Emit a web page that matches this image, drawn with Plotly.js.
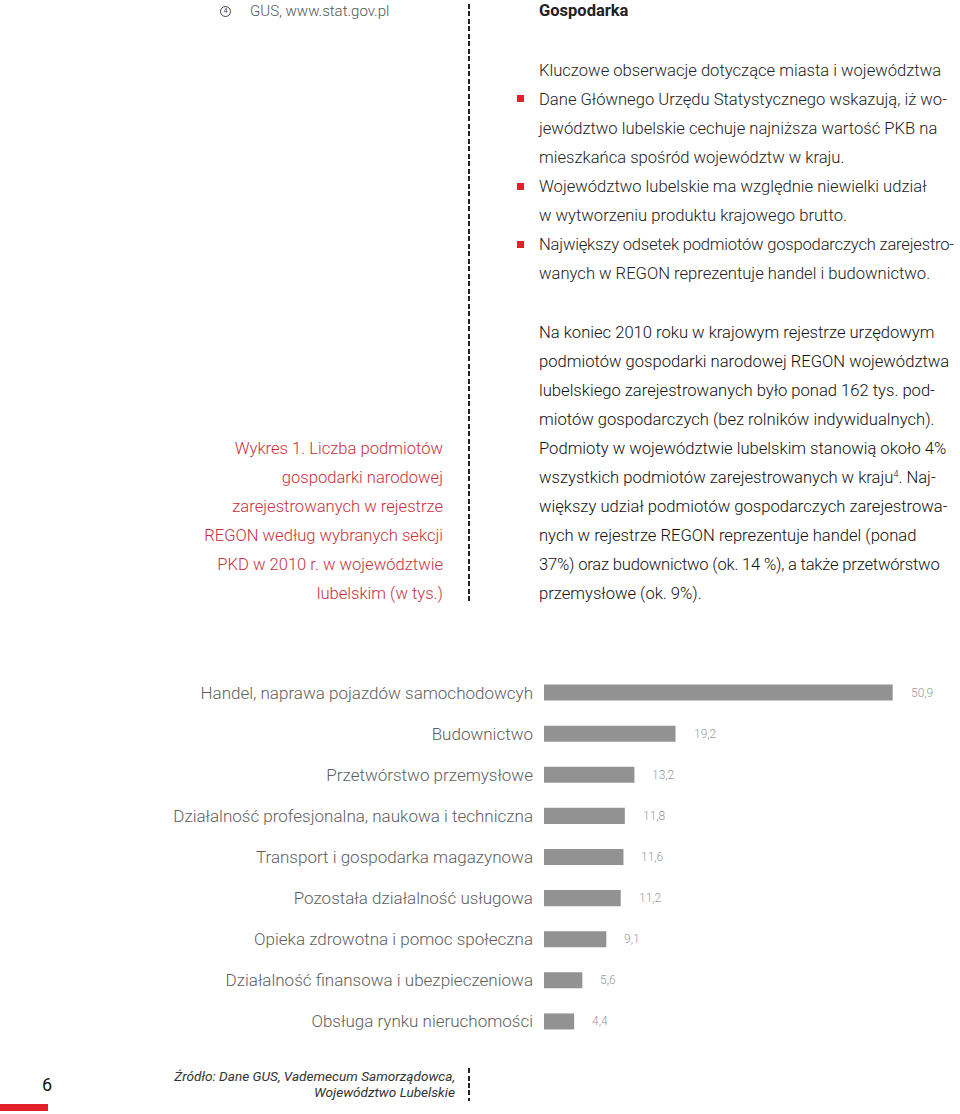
<!DOCTYPE html>
<html>
<head>
<meta charset="utf-8">
<script src="https://cdn.plot.ly/plotly-3.0.1.min.js"></script>
<style>
  html, body { margin:0; padding:0; background:#fff; }
  body { width:960px; height:1114px; position:relative; overflow:hidden;
         font-family: Roboto, "Noto Sans", "DejaVu Sans", sans-serif; }
  .abs { position:absolute; white-space:nowrap; }
  .blk { position:absolute; font-size:16.6px; }
  .blk > div { height:29px; line-height:29px; white-space:nowrap; }
  .tight { letter-spacing:-0.2px; }
  .dash { position:absolute; width:2px;
          background: repeating-linear-gradient(to bottom, #222 0 5px, transparent 5px 7.5px); }
  .bullet { position:absolute; width:7px; height:7px; background:#e2202c; }
  #chart { position:absolute; left:0; top:0; width:960px; height:1114px; }
</style>
</head>
<body>

<!-- footnote -->
<div class="abs" style="left:220px; top:6px; width:9px; height:9px; border:1px solid #444; border-radius:50%; font-size:7px; line-height:9px; text-align:center; color:#333;">4</div>
<div class="abs" style="left:250px; top:2px; font-size:15px; color:#555; font-weight:300;">GUS, www.stat.gov.pl</div>

<!-- dashed separators -->
<div class="dash" style="left:468px; top:4px; height:598px;"></div>
<div class="dash" style="left:468px; top:1068px; height:33px;"></div>

<!-- header -->
<div class="abs" style="left:539px; top:1px; font-size:16.5px; font-weight:bold; color:#222;">Gospodarka</div>

<!-- key observations -->
<div class="blk" style="left:539px; top:56px; color:#222; font-weight:300;">
<div>Kluczowe obserwacje dotyczące miasta i województwa</div>
<div>Dane Głównego Urzędu Statystycznego wskazują, iż wo-</div>
<div>jewództwo lubelskie cechuje najniższa wartość PKB na</div>
<div>mieszkańca spośród województw w kraju.</div>
<div>Województwo lubelskie ma względnie niewielki udział</div>
<div>w wytworzeniu produktu krajowego brutto.</div>
<div class="tight">Największy odsetek podmiotów gospodarczych zarejestro-</div>
<div>wanych w REGON reprezentuje handel i budownictwo.</div>
</div>
<div class="bullet" style="left:517px; top:95px;"></div>
<div class="bullet" style="left:517px; top:183px;"></div>
<div class="bullet" style="left:517px; top:241px;"></div>

<!-- paragraph -->
<div class="blk" style="left:539px; top:318px; color:#111; font-weight:300;">
<div>Na koniec 2010 roku w krajowym rejestrze urzędowym</div>
<div>podmiotów gospodarki narodowej REGON województwa</div>
<div>lubelskiego zarejestrowanych było ponad 162 tys. pod-</div>
<div>miotów gospodarczych (bez rolników indywidualnych).</div>
<div>Podmioty w województwie lubelskim stanowią około 4%</div>
<div>wszystkich podmiotów zarejestrowanych w kraju<span style="font-size:9px; position:relative; top:-6px;">4</span>. Naj-</div>
<div>większy udział podmiotów gospodarczych zarejestrowa-</div>
<div>nych w rejestrze REGON reprezentuje handel (ponad</div>
<div class="tight">37%) oraz budownictwo (ok. 14 %), a także przetwórstwo</div>
<div>przemysłowe (ok. 9%).</div>
</div>

<!-- chart caption -->
<div class="blk" style="right:517px; top:434px; color:#c8313b; text-align:right; font-weight:300;">
<div>Wykres 1. Liczba podmiotów</div>
<div>gospodarki narodowej</div>
<div>zarejestrowanych w rejestrze</div>
<div>REGON według wybranych sekcji</div>
<div>PKD w 2010 r. w województwie</div>
<div>lubelskim (w tys.)</div>
</div>

<!-- page number & source -->
<div class="abs" style="left:42px; top:1074px; font-size:18px; color:#111;">6</div>
<div class="abs" style="left:0px; top:1104px; width:48px; height:7px; background:#e2202c;"></div>
<div class="abs" style="right:505px; top:1068px; font-size:13.6px; font-style:italic; color:#333; text-align:right;">
<div style="height:16px; line-height:16px;">Źródło: Dane GUS, Vademecum Samorządowca,</div>
<div style="height:16px; line-height:16px;">Województwo Lubelskie</div>
</div>

<div id="chart"></div>

<script>
const categories = [
  "Handel, naprawa pojazdów samochodowcyh",
  "Budownictwo",
  "Przetwórstwo przemysłowe",
  "Działalność profesjonalna, naukowa i techniczna",
  "Transport i gospodarka magazynowa",
  "Pozostała działalność usługowa",
  "Opieka zdrowotna i pomoc społeczna",
  "Działalność finansowa i ubezpieczeniowa",
  "Obsługa rynku nieruchomości"
];
const values = [50.9, 19.2, 13.2, 11.8, 11.6, 11.2, 9.1, 5.6, 4.4];
const valueLabels = values.map(v => v.toFixed(1).replace('.', ','));

const trace = {
  type: 'bar',
  orientation: 'h',
  x: values,
  y: categories,
  marker: { color: '#929292' },
  width: 0.39,
  hoverinfo: 'none'
};

const annotations = values.map((v, i) => ({
  x: v, y: categories[i], xref: 'x', yref: 'y',
  text: valueLabels[i], showarrow: false,
  xanchor: 'left', yanchor: 'middle', xshift: 16,
  font: { family: 'Roboto, "Noto Sans", sans-serif', size: 12, color: '#9a9a9a', weight: 300 }
}));

const layout = {
  width: 960, height: 1114,
  margin: { l: 544, r: 5, t: 672, b: 72, pad: 0 },
  paper_bgcolor: 'rgba(0,0,0,0)',
  plot_bgcolor: 'rgba(0,0,0,0)',
  showlegend: false,
  xaxis: { range: [0, 60], visible: false, fixedrange: true },
  yaxis: {
    type: 'category', autorange: 'reversed',
    showgrid: false, zeroline: false, showline: false,
    ticks: '', ticklabelstandoff: 10,
    tickfont: { family: 'Roboto, "Noto Sans", sans-serif', size: 17, color: '#5e5e5e', weight: 300 },
    fixedrange: true
  },
  annotations: annotations
};

Plotly.newPlot('chart', [trace], layout, { staticPlot: true, displayModeBar: false });
</script>
</body>
</html>
